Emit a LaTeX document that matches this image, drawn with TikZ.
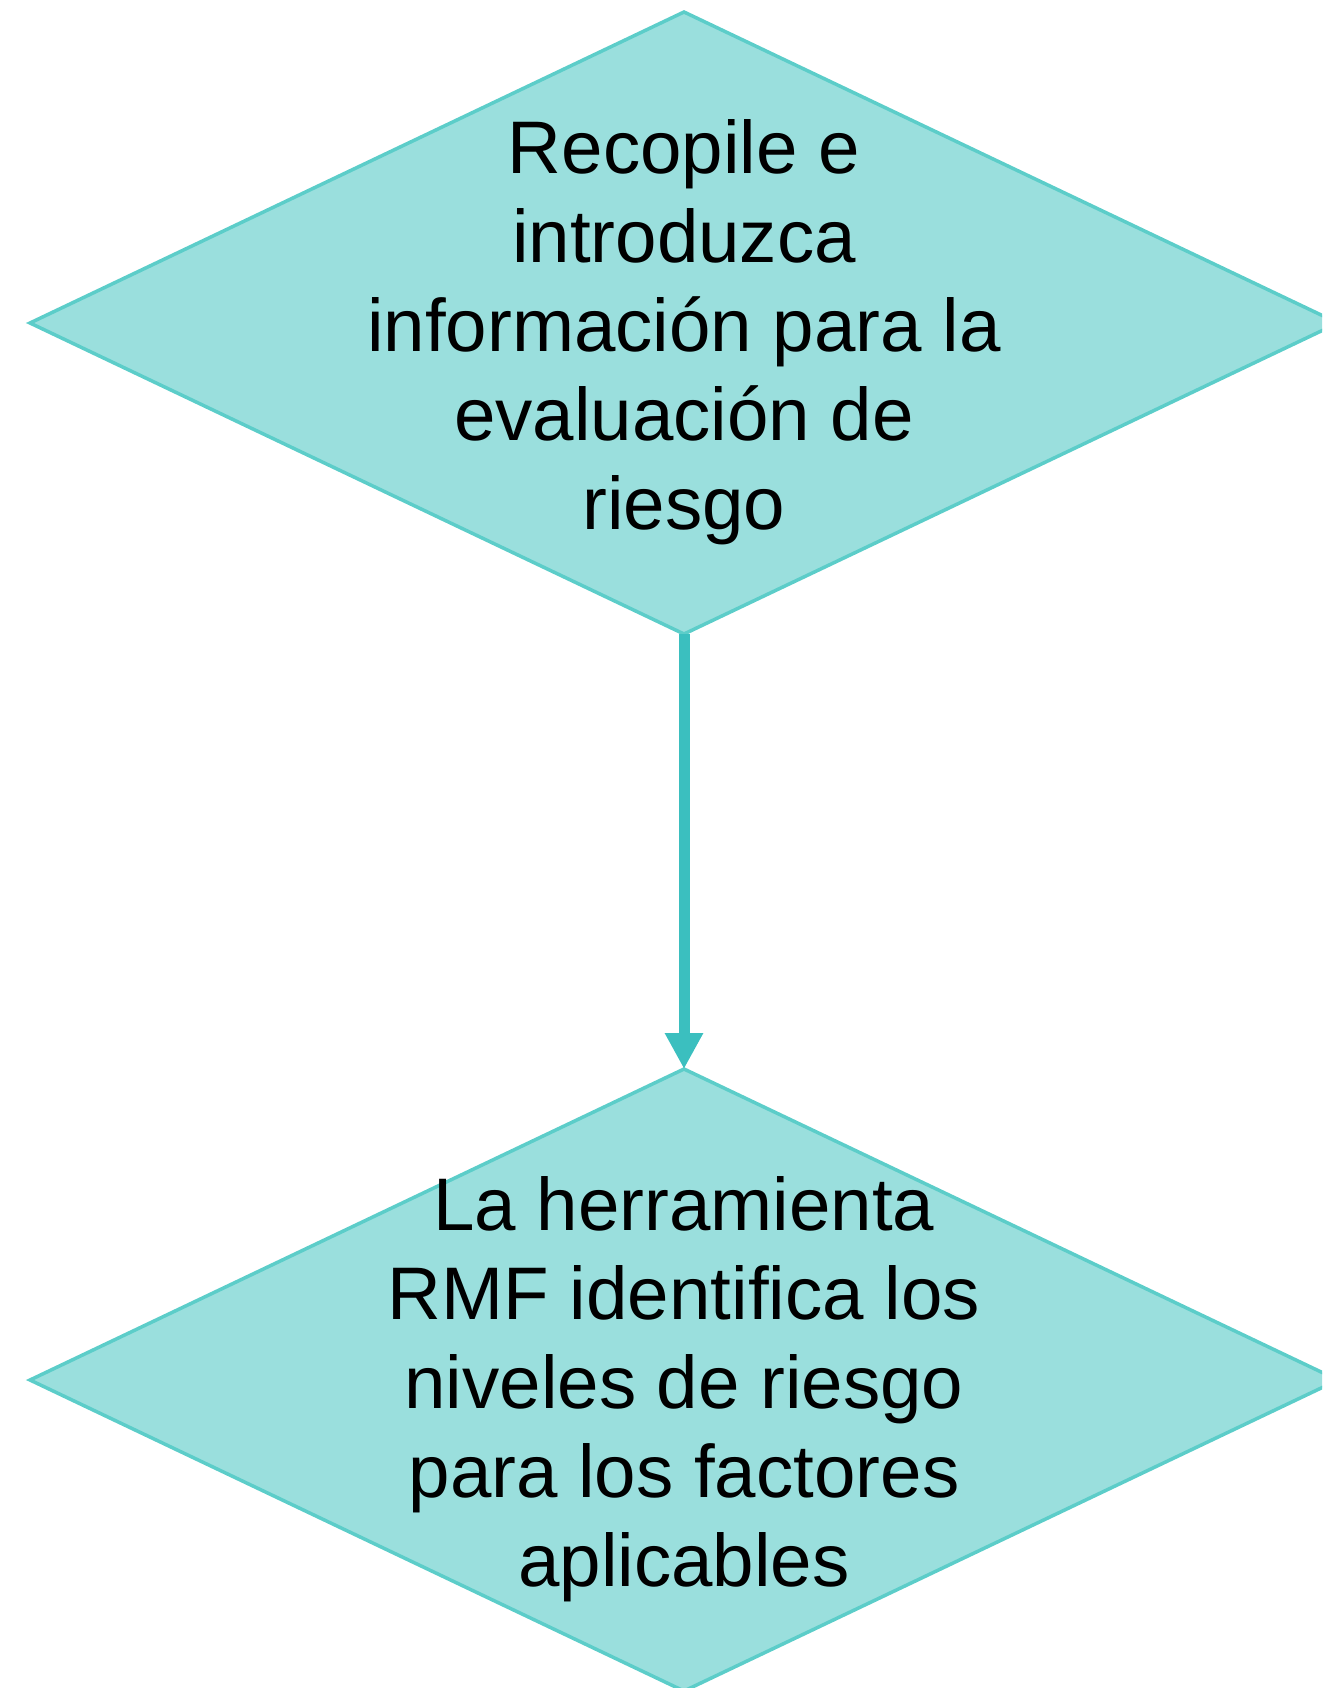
\documentclass[tikz,border=0pt]{standalone}
\usepackage{fontspec}
\setmainfont{Liberation Sans}
\usetikzlibrary{shapes.geometric,arrows.meta}
\definecolor{dfill}{HTML}{9ADFDD}
\definecolor{dline}{HTML}{5CCDC9}
\definecolor{arr}{HTML}{3BBFBF}
\begin{document}
\begin{tikzpicture}[x=1pt,y=-1pt,
  dia/.style={shape=diamond, draw=dline, fill=dfill, line width=3.5pt,
    minimum width=1308pt, minimum height=622pt, inner sep=0pt, outer sep=0pt},
  lbl/.style={align=center, font=\fontsize{74.5}{89}\selectfont, text=black, inner sep=0pt},
  conn/.style={draw=arr, line width=11pt, -{Triangle[width=36pt,length=36pt]}}]
\useasboundingbox (0,0) rectangle (1322,1688);
\clip (0,0) rectangle (1322,1688);
\node[dia] (d1) at (684,323) {};
\node[dia] (d2) at (684,1380) {};
\draw[conn] (d1.south) -- (d2.north);
\node[lbl] (t1) at (684,332.5) {Recopile e\\introduzca\\información para la\\evaluación de\\riesgo};
\node[lbl] (t2) at (684,1389.5) {La herramienta\\RMF identifica los\\niveles de riesgo\\para los factores\\aplicables};
\end{tikzpicture}
\end{document}
